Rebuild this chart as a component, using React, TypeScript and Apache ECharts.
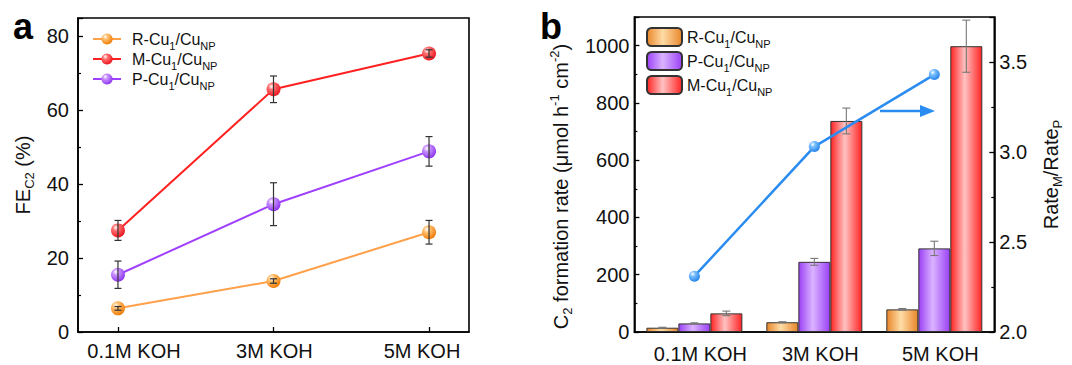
import React, { useEffect, useRef } from "react";
import * as echarts from "echarts";

const F = "Arial, 'Liberation Sans', Helvetica, sans-serif";

// ---------- data ----------
const categories = ["0.1M KOH", "3M KOH", "5M KOH"];

// panel a: FE C2 (%)
const feR = [6.4, 13.8, 27.0];
const feRErr = [0.5, 0.6, 3.2];
const feM = [27.5, 65.7, 75.4];
const feMErr = [2.7, 3.6, 1.0];
const feP = [15.5, 34.6, 48.9];
const fePErr = [3.7, 5.8, 4.0];

// panel b: C2 formation rate (umol h-1 cm-2)
const rateR = [15, 34, 79];
const rateRErr = [1.5, 2, 3];
const rateP = [30, 245, 292];
const ratePErr = [2, 12, 25];
const rateM = [65, 737, 998];
const rateMErr = [8, 45, 91];
// Rate_M / Rate_P
const ratio = [2.31, 3.03, 3.43];

// x label offsets (panel a) in axis units
const labelShiftA = [0.103, 0.006, -0.045];

const seriesNames = {
  R: "R-Cu1/CuNP",
  M: "M-Cu1/CuNP",
  P: "P-Cu1/CuNP",
};

// ---------- helpers ----------
function sphere(base: string, light: string) {
  return new echarts.graphic.RadialGradient(0.35, 0.3, 0.75, [
    { offset: 0, color: "#ffffff" },
    { offset: 0.3, color: light },
    { offset: 1, color: base },
  ]);
}
function barGrad(edge: string, center: string) {
  return new echarts.graphic.LinearGradient(0, 0, 1, 0, [
    { offset: 0, color: edge },
    { offset: 0.45, color: center },
    { offset: 1, color: edge },
  ]);
}
const legendFmt = (name: string) => `{n|${name.slice(0, 4)}}{s|1}{n|/Cu}{s|NP}`;
const legendRich = {
  n: { fontSize: 16, fontFamily: F, color: "#111", lineHeight: 24 },
  s: { fontSize: 11, fontFamily: F, color: "#111", lineHeight: 9, verticalAlign: "bottom" },
};
const nameRich = {
  s: { fontSize: 13, fontFamily: F, color: "#111", lineHeight: 9, verticalAlign: "bottom" },
  p: { fontSize: 13, fontFamily: F, color: "#111", lineHeight: 10, verticalAlign: "top" },
};

const axisCommon = {
  axisLine: { show: true, onZero: false, lineStyle: { color: "#000", width: 1.6 } },
  axisTick: { show: true, inside: true, length: 5, lineStyle: { color: "#000", width: 1.3 } },
  splitLine: { show: false },
};

function errSeriesA(vals: number[], errs: number[]) {
  return {
    type: "custom",
    silent: true,
    z: 5,
    data: vals.map((v, i) => [i, v - errs[i], v + errs[i]]),
    encode: { x: 0, y: [1, 2] },
    renderItem: (_p: any, api: any) => {
      const lo = api.coord([api.value(0), api.value(1)]);
      const hi = api.coord([api.value(0), api.value(2)]);
      const w = 3.5;
      const style = { stroke: "#333", lineWidth: 1.2 };
      return {
        type: "group",
        children: [
          { type: "line", shape: { x1: lo[0], y1: lo[1], x2: hi[0], y2: hi[1] }, style },
          { type: "line", shape: { x1: lo[0] - w, y1: lo[1], x2: lo[0] + w, y2: lo[1] }, style },
          { type: "line", shape: { x1: hi[0] - w, y1: hi[1], x2: hi[0] + w, y2: hi[1] }, style },
        ],
      };
    },
  };
}

function errSeriesB(vals: number[], errs: number[], k: number) {
  return {
    type: "custom",
    silent: true,
    z: 5,
    data: vals.map((v, i) => [i, v - errs[i], v + errs[i], k]),
    encode: { x: 0, y: [1, 2] },
    renderItem: (_p: any, api: any) => {
      const band = api.size([1, 0])[0];
      const bw = (band * 0.8) / 3;
      const off = api.value(3) * bw;
      const lo = api.coord([api.value(0), api.value(1)]);
      const hi = api.coord([api.value(0), api.value(2)]);
      const x = lo[0] + off;
      const w = 4;
      const style = { stroke: "#777", lineWidth: 1.1 };
      return {
        type: "group",
        children: [
          { type: "line", shape: { x1: x, y1: lo[1], x2: x, y2: hi[1] }, style },
          { type: "line", shape: { x1: x - w, y1: lo[1], x2: x + w, y2: lo[1] }, style },
          { type: "line", shape: { x1: x - w, y1: hi[1], x2: x + w, y2: hi[1] }, style },
        ],
      };
    },
  };
}

function lineSeriesA(name: string, vals: number[], lineColor: string, base: string, light: string) {
  return {
    name,
    type: "line",
    data: vals.map((v, i) => [i, v]),
    symbol: "circle",
    symbolSize: 14,
    lineStyle: { color: lineColor, width: 2 },
    itemStyle: { color: sphere(base, light) },
    z: 3,
  };
}

function barSeries(name: string, vals: number[], edge: string, center: string) {
  return {
    name,
    type: "bar",
    data: vals,
    barGap: "0%",
    barCategoryGap: "20%",
    itemStyle: { color: barGrad(edge, center), borderColor: "#333", borderWidth: 1 },
    z: 2,
  };
}

// ---------- options ----------
const optA: any = {
  animation: false,
  grid: { left: 78, right: 71, top: 18, bottom: 33, show: true, borderColor: "#000", borderWidth: 1.6 },
  legend: {
    orient: "vertical",
    left: 87,
    top: 26,
    itemGap: 0,
    itemWidth: 28,
    itemHeight: 14,
    data: [seriesNames.R, seriesNames.M, seriesNames.P],
    formatter: legendFmt,
    textStyle: { fontFamily: F, fontSize: 16, color: "#111", rich: legendRich, padding: [0, 0, 0, 6] },
  },
  xAxis: {
    type: "value",
    min: -0.257,
    max: 2.257,
    ...axisCommon,
    axisTick: { ...axisCommon.axisTick, customValues: [0, 1, 2] },
    axisLabel: {
      customValues: labelShiftA.map((s, i) => i + s),
      formatter: (v: number) => categories[Math.round(v)],
      fontFamily: F,
      fontSize: 20,
      color: "#111",
      margin: 9,
    },
  },
  yAxis: {
    type: "value",
    min: 0,
    max: 85,
    interval: 20,
    ...axisCommon,
    minorTick: { show: true, splitNumber: 2, length: 3, lineStyle: { color: "#000", width: 1.2 } },
    axisLabel: { fontFamily: F, fontSize: 20, color: "#111", margin: 9, showMaxLabel: false },
    name: "FE{s|C2} (%)",
    nameLocation: "middle",
    nameRotate: 90,
    nameGap: 38,
    nameTextStyle: { fontFamily: F, fontSize: 20, color: "#111", lineHeight: 26, rich: nameRich },
  },
  graphic: [
    { type: "text", left: 13, top: 8, style: { text: "a", fontFamily: F, fontWeight: "bold", fontSize: 36, fill: "#000" } },
  ],
  series: [
    lineSeriesA(seriesNames.R, feR, "#FFA04A", "#F07800", "#FFC070"),
    lineSeriesA(seriesNames.M, feM, "#FF2020", "#E8101A", "#FF7070"),
    lineSeriesA(seriesNames.P, feP, "#A040FF", "#8A30EE", "#C890FF"),
    errSeriesA(feR, feRErr),
    errSeriesA(feM, feMErr),
    errSeriesA(feP, fePErr),
  ],
};

const optB: any = {
  animation: false,
  grid: { left: 76, right: 72, top: 17, bottom: 33, show: true, borderColor: "#000", borderWidth: 1.6 },
  legend: {
    orient: "vertical",
    left: 101,
    top: 22,
    itemGap: 2,
    itemWidth: 35,
    itemHeight: 18,
    data: [seriesNames.R, seriesNames.P, seriesNames.M],
    formatter: legendFmt,
    textStyle: { fontFamily: F, fontSize: 16, color: "#111", rich: legendRich },
  },
  xAxis: {
    type: "category",
    data: categories,
    ...axisCommon,
    axisTick: { show: false },
    axisLabel: {
      fontFamily: F,
      fontSize: 20,
      color: "#111",
      margin: 12,
      interval: 0,
      hideOverlap: false,
      padding: [0, 0, 0, 12],
    },
  },
  yAxis: [
    {
      type: "value",
      min: 0,
      max: 1100,
      interval: 200,
      ...axisCommon,
      minorTick: { show: true, splitNumber: 2, length: 3, lineStyle: { color: "#000", width: 1.2 } },
      axisLabel: {
        fontFamily: F,
        fontSize: 20,
        color: "#111",
        margin: 5,
        showMaxLabel: false,
        formatter: (v: number) => String(v),
      },
      name: "C{s|2} formation rate (μmol h{p|-1} cm{p|-2})",
      nameLocation: "middle",
      nameRotate: 90,
      nameGap: 41,
      nameTextStyle: {
        fontFamily: F,
        fontSize: 20,
        color: "#111",
        lineHeight: 26,
        rich: nameRich,
        padding: [0, 24, 0, 0],
      },
    },
    {
      type: "value",
      position: "right",
      min: 2,
      max: 3.75,
      interval: 0.5,
      ...axisCommon,
      minorTick: { show: true, splitNumber: 2, length: 3, lineStyle: { color: "#000", width: 1.2 } },
      axisLabel: {
        fontFamily: F,
        fontSize: 20,
        color: "#111",
        margin: 5,
        showMaxLabel: false,
        formatter: (v: number) => v.toFixed(1),
      },
      name: "Rate{s|M}/Rate{s|P}",
      nameLocation: "middle",
      nameRotate: 90,
      nameGap: 38,
      nameTextStyle: { fontFamily: F, fontSize: 20, color: "#111", lineHeight: 26, rich: nameRich },
    },
  ],
  graphic: [
    { type: "text", left: 0, top: 8, style: { text: "b", fontFamily: F, fontWeight: "bold", fontSize: 36, fill: "#000" } },
    { type: "line", shape: { x1: 340, y1: 111, x2: 384, y2: 111 }, style: { stroke: "#2A8CF0", lineWidth: 2.5 }, z: 20 },
    { type: "polygon", shape: { points: [[380, 105], [395, 111], [380, 117]] }, style: { fill: "#2A8CF0" }, z: 20 },
  ],
  series: [
    barSeries(seriesNames.R, rateR, "#E8862A", "#FFDCA6"),
    barSeries(seriesNames.P, rateP, "#9B40F5", "#DAB4FF"),
    barSeries(seriesNames.M, rateM, "#FF2424", "#FFC2C2"),
    errSeriesB(rateR, rateRErr, -1),
    errSeriesB(rateP, ratePErr, 0),
    errSeriesB(rateM, rateMErr, 1),
    {
      name: "ratio",
      type: "line",
      yAxisIndex: 1,
      data: ratio,
      symbol: "circle",
      symbolSize: 11,
      lineStyle: { color: "#2A8CF0", width: 2.5 },
      itemStyle: { color: sphere("#1E7FE8", "#7CC0FF") },
      z: 10,
    },
  ],
};

export default function App() {
  const refA = useRef<HTMLDivElement>(null);
  const refB = useRef<HTMLDivElement>(null);
  useEffect(() => {
    const a = echarts.init(refA.current!, null, { renderer: "svg" });
    const b = echarts.init(refB.current!, null, { renderer: "svg" });
    a.setOption(optA);
    b.setOption(optB);
    return () => {
      a.dispose();
      b.dispose();
    };
  }, []);
  return (
    <div style={{ position: "fixed", left: 0, top: 0, width: 1072, height: 365, display: "flex", background: "#fff" }}>
      <div ref={refA} style={{ width: 540, height: 365 }} />
      <div ref={refB} style={{ width: 532, height: 365 }} />
    </div>
  );
}
